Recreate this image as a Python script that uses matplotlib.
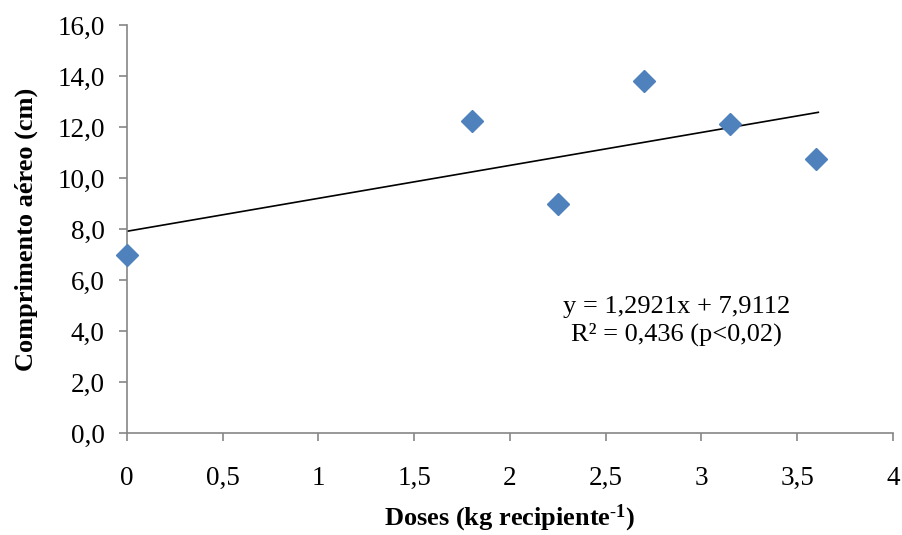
import matplotlib
matplotlib.use("Agg")
import matplotlib.pyplot as plt
import numpy as np

doses = [0.0, 1.8, 2.25, 2.7, 3.15, 3.6]
comprimento = [6.97, 12.22, 8.97, 13.82, 12.10, 10.73]
slope = 1.2921
intercept = 7.9112
x_ticks = [0, 0.5, 1, 1.5, 2, 2.5, 3, 3.5, 4]
x_tick_labels = ["0", "0,5", "1", "1,5", "2", "2,5", "3", "3,5", "4"]
y_ticks = [0, 2, 4, 6, 8, 10, 12, 14, 16]
y_tick_labels = ["0,0", "2,0", "4,0", "6,0", "8,0", "10,0", "12,0", "14,0", "16,0"]

plt.rcParams['font.family'] = ['Liberation Serif', 'DejaVu Serif']
plt.rcParams['mathtext.fontset'] = 'custom'
plt.rcParams['mathtext.rm'] = 'Liberation Serif'
plt.rcParams['mathtext.bf'] = 'Liberation Serif:bold'
plt.rcParams['mathtext.it'] = 'Liberation Serif:italic'

fig = plt.figure(figsize=(9.03, 5.35), dpi=100)
ax = fig.add_axes([127/903, 102/535, 766/903, 408/535])

xl = np.array([doses[0], doses[-1] + 0.01])
ax.plot(xl, slope * xl + intercept, color='black', lw=1.2, zorder=2)
ax.plot(doses, comprimento, linestyle='none', marker='D', markersize=11,
        color='#4F81BD', markeredgecolor='#4F81BD', zorder=3, clip_on=False)

ax.set_xlim(0, 4)
ax.set_ylim(0, 16)
ax.set_xticks(x_ticks)
ax.set_xticklabels(x_tick_labels, fontsize=19.5)
ax.set_yticks(y_ticks)
ax.set_yticklabels(y_tick_labels, fontsize=19.5)

for s in ['top', 'right']:
    ax.spines[s].set_visible(False)
for s in ['left', 'bottom']:
    ax.spines[s].set_color('#868686')
    ax.spines[s].set_linewidth(1.2)
ax.tick_params(axis='both', colors='#868686', labelcolor='black', width=1.2, length=6, direction='out')
ax.tick_params(axis='x', pad=17.5)
ax.tick_params(axis='y', pad=10)

ax.set_xlabel('Doses (kg recipiente$\\mathbf{^{\\text{-}1}}$)', fontsize=19, fontweight='bold', labelpad=9)
ax.set_ylabel('Comprimento aéreo (cm)', fontsize=19, fontweight='bold', labelpad=14)

ax.text(2.87, 4.39, 'y = 1,2921x + 7,9112\nR² = 0,436 (p<0,02)', fontsize=19,
        ha='center', va='center', linespacing=1.25)

fig.savefig('out.png', dpi=100)
